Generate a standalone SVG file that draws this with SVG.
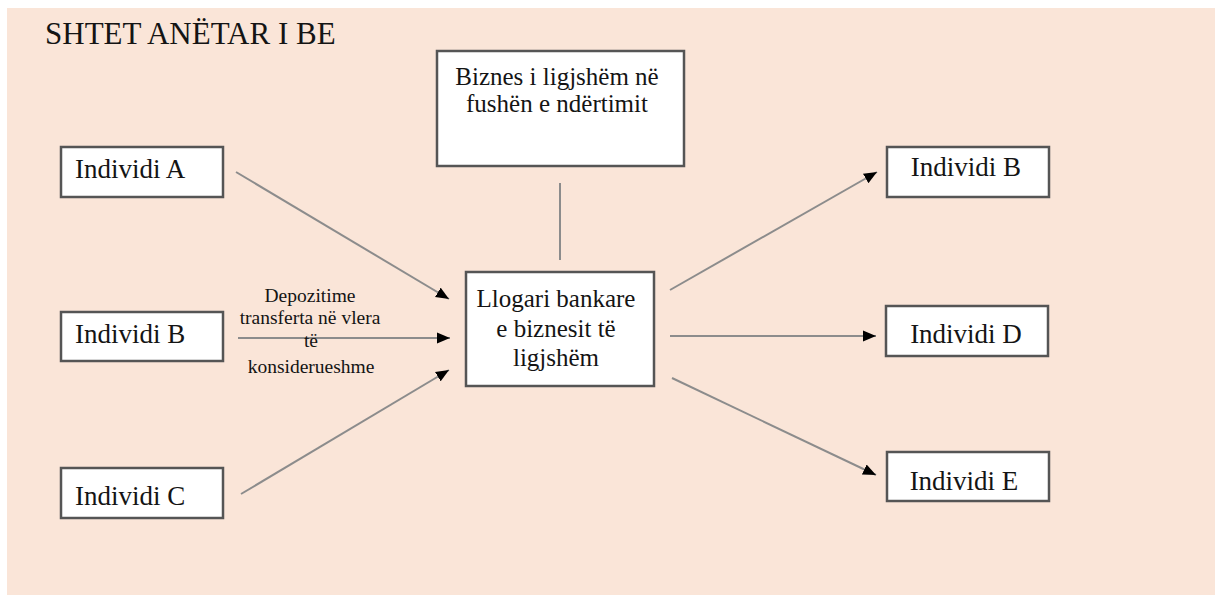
<svg xmlns="http://www.w3.org/2000/svg" width="1215" height="601" viewBox="0 0 1215 601">
<style>
.box{fill:#ffffff;stroke:#555555;stroke-width:2.5}
.t{font-family:"Liberation Serif","Times New Roman",serif;fill:#141414}
.n{font-size:27px}
.m{font-size:25px;text-anchor:middle}
.lbl{font-size:19.5px;text-anchor:middle}
.ln{stroke:#8c8c8c;stroke-width:2;fill:none}
</style>
<defs>
<marker id="ah" markerUnits="userSpaceOnUse" markerWidth="14" markerHeight="12" refX="13" refY="6" orient="auto">
<path d="M0,0.5 L13,6 L0,11.5 z" fill="#000000"/>
</marker>
</defs>
<rect x="0" y="0" width="1215" height="601" fill="#ffffff"/>
<rect x="7" y="8" width="1208" height="587" fill="#fae5d8"/>
<text class="t" x="45" y="44" font-size="31">SHTET ANËTAR I BE</text>

<g id="connectors">
<line class="ln" x1="236" y1="172" x2="449" y2="299" marker-end="url(#ah)"/>
<line class="ln" x1="238" y1="338" x2="450" y2="338" marker-end="url(#ah)"/>
<line class="ln" x1="241" y1="494" x2="449" y2="370" marker-end="url(#ah)"/>
<line class="ln" x1="560" y1="183" x2="560" y2="260"/>
<line class="ln" x1="670" y1="290" x2="877" y2="172" marker-end="url(#ah)"/>
<line class="ln" x1="670" y1="336" x2="876" y2="336" marker-end="url(#ah)"/>
<line class="ln" x1="672" y1="378" x2="876" y2="475" marker-end="url(#ah)"/>
<text class="t lbl" x="310" y="302">Depozitime</text>
<text class="t lbl" x="310" y="324">transferta në vlera</text>
<text class="t lbl" x="311" y="347">të</text>
<text class="t lbl" x="311" y="373">konsiderueshme</text>
</g>

<g id="individi-a">
<rect class="box" x="61" y="147" width="162" height="50"/>
<text class="t n" x="75" y="178">Individi A</text>
</g>
<g id="individi-b-left">
<rect class="box" x="61" y="312" width="162" height="49"/>
<text class="t n" x="75" y="343">Individi B</text>
</g>
<g id="individi-c">
<rect class="box" x="61" y="468" width="162" height="50"/>
<text class="t n" x="75" y="505">Individi C</text>
</g>
<g id="biznes">
<rect class="box" x="437" y="51" width="247" height="115"/>
<text class="t m" x="557" y="85">Biznes i ligjshëm në</text>
<text class="t m" x="557" y="112">fushën e ndërtimit</text>
</g>
<g id="llogari">
<rect class="box" x="466" y="272" width="188" height="114"/>
<text class="t m" x="556" y="307">Llogari bankare</text>
<text class="t m" x="556" y="337">e biznesit të</text>
<text class="t m" x="556" y="366">ligjshëm</text>
</g>
<g id="individi-b-right">
<rect class="box" x="887" y="147" width="162" height="50"/>
<text class="t n" x="966" y="176" text-anchor="middle">Individi B</text>
</g>
<g id="individi-d">
<rect class="box" x="886" y="306" width="162" height="50"/>
<text class="t n" x="966" y="343" text-anchor="middle">Individi D</text>
</g>
<g id="individi-e">
<rect class="box" x="887" y="452" width="162" height="49"/>
<text class="t n" x="964" y="490" text-anchor="middle">Individi E</text>
</g>
</svg>
